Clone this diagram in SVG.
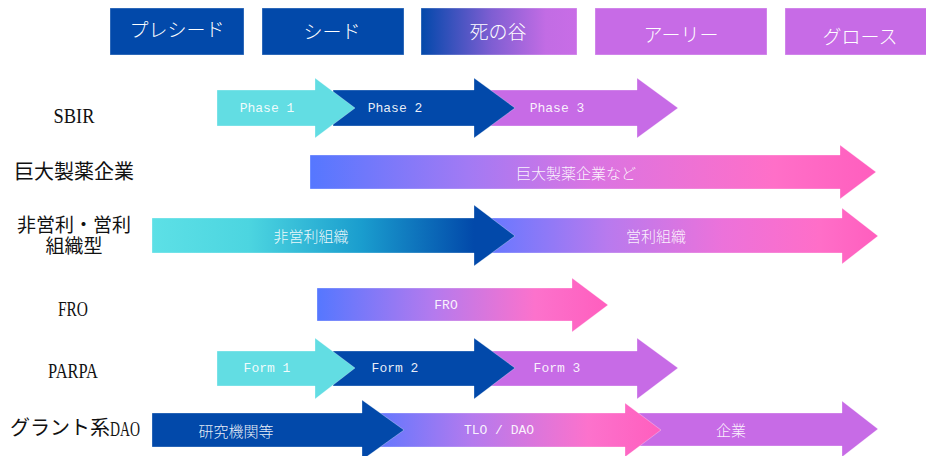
<svg xmlns="http://www.w3.org/2000/svg" width="926" height="456" viewBox="0 0 926 456">
<defs>
<style>
.hdr{font-family:"Noto Sans CJK JP",sans-serif;font-size:19px;font-weight:300;fill:#fff;text-anchor:middle;dominant-baseline:central}
.lbl{font-family:"Liberation Serif","Noto Sans CJK JP",serif;font-size:20px;fill:#111;text-anchor:middle;dominant-baseline:central}
.lat{font-size:22px}
.jp{font-family:"Noto Sans CJK JP",sans-serif;font-size:15px;font-weight:300;fill:#fff;fill-opacity:0.92;text-anchor:middle;dominant-baseline:central}
.mono{font-family:"Liberation Mono",monospace;font-size:13px;fill:#fff;fill-opacity:0.92;text-anchor:middle;dominant-baseline:central}
.blue{fill:#0249AA}
.violet{fill:#C76BE6}
.cyan{fill:#62DDE3}
.box{stroke:#ffffff;stroke-opacity:0.35;stroke-width:1}
.arr{stroke:#ffffff;stroke-opacity:0.3;stroke-width:1}
</style>
<linearGradient id="gValley" gradientUnits="userSpaceOnUse" x1="421" y1="0" x2="577" y2="0">
<stop offset="0" stop-color="#0249AA"/>
<stop offset="0.1" stop-color="#1E4DB4"/>
<stop offset="0.45" stop-color="#7E5ED2"/>
<stop offset="0.8" stop-color="#C26CE4"/>
<stop offset="1" stop-color="#C86DE6"/>
</linearGradient>
<linearGradient id="gPharma" gradientUnits="userSpaceOnUse" x1="310" y1="0" x2="876" y2="0">
<stop offset="0" stop-color="#5577FF"/>
<stop offset="0.28" stop-color="#A27AF4"/>
<stop offset="0.5" stop-color="#DA74E2"/>
<stop offset="0.82" stop-color="#FF6FC8"/>
<stop offset="1" stop-color="#FF5EBE"/>
</linearGradient>
<linearGradient id="gNonprofit" gradientUnits="userSpaceOnUse" x1="152" y1="0" x2="474" y2="0">
<stop offset="0" stop-color="#5DE0E6"/>
<stop offset="0.3" stop-color="#4CD5E0"/>
<stop offset="0.65" stop-color="#1A9DCE"/>
<stop offset="1" stop-color="#0249AA"/>
</linearGradient>
<linearGradient id="gProfit" gradientUnits="userSpaceOnUse" x1="491" y1="0" x2="878" y2="0">
<stop offset="0" stop-color="#6878FF"/>
<stop offset="0.3" stop-color="#B87AEE"/>
<stop offset="0.6" stop-color="#EC72DA"/>
<stop offset="0.85" stop-color="#FF6EC8"/>
<stop offset="1" stop-color="#FF5EBE"/>
</linearGradient>
<linearGradient id="gFRO" gradientUnits="userSpaceOnUse" x1="317" y1="0" x2="608" y2="0">
<stop offset="0" stop-color="#5577FF"/>
<stop offset="0.4" stop-color="#B47AEE"/>
<stop offset="0.75" stop-color="#FC72CC"/>
<stop offset="1" stop-color="#FF5EBE"/>
</linearGradient>
<linearGradient id="gTLO" gradientUnits="userSpaceOnUse" x1="370" y1="0" x2="661" y2="0">
<stop offset="0" stop-color="#5C77FF"/>
<stop offset="0.35" stop-color="#B47AEE"/>
<stop offset="0.75" stop-color="#FC72CC"/>
<stop offset="1" stop-color="#FF5EBE"/>
</linearGradient>
</defs>
<rect width="926" height="456" fill="#fff"/>

<g id="stages">
<g id="stage-preseed"><rect class="blue box" x="110" y="8" width="134" height="47"/><text class="hdr" x="177" y="28">プレシード</text></g>
<g id="stage-seed"><rect class="blue box" x="262" y="8" width="142" height="47"/><text class="hdr" x="332" y="30">シード</text></g>
<g id="stage-valley"><rect class="box" fill="url(#gValley)" x="421" y="8" width="156" height="47"/><text class="hdr" x="498" y="30">死の谷</text></g>
<g id="stage-early"><rect class="violet box" x="595" y="8" width="172" height="47"/><text class="hdr" x="681" y="33">アーリー</text></g>
<g id="stage-growth"><rect class="violet box" x="785" y="8" width="150" height="47"/><text class="hdr" x="860" y="35">グロース</text></g>
</g>

<g id="labels">
<g id="label-sbir"><text class="lbl lat" x="74" y="115" textLength="41" lengthAdjust="spacingAndGlyphs">SBIR</text></g>
<g id="label-pharma"><text class="lbl" x="74" y="172">巨大製薬企業</text></g>
<g id="label-org"><text class="lbl" x="74" y="225" style="font-size:19px">非営利・営利</text><text class="lbl" x="74" y="246" style="font-size:19px">組織型</text></g>
<g id="label-fro"><text class="lbl lat" x="73" y="308" textLength="30" lengthAdjust="spacingAndGlyphs">FRO</text></g>
<g id="label-parpa"><text class="lbl lat" x="73" y="370" textLength="50" lengthAdjust="spacingAndGlyphs">PARPA</text></g>
<g id="label-dao"><text class="lbl" x="10" y="428" style="text-anchor:start">グラント系<tspan class="lat" textLength="30" lengthAdjust="spacingAndGlyphs">DAO</tspan></text></g>
</g>

<g id="connectors"></g>

<g id="row-sbir">
<g id="sbir-phase3"><path class="violet arr" d="M491 90H637V78L678 108L637 138V126H491Z"/><text class="mono" x="557" y="108">Phase 3</text></g>
<g id="sbir-phase2"><path class="blue arr" d="M333 90H474V78L515 108L474 138V126H333Z"/><text class="mono" x="395" y="108">Phase 2</text></g>
<g id="sbir-phase1"><path class="cyan arr" d="M217 90H315V78L355 108L315 138V126H217Z"/><text class="mono" x="267" y="108">Phase 1</text></g>
</g>

<g id="row-pharma">
<g id="pharma-arrow"><path class="arr" fill="url(#gPharma)" d="M310 155H840V145L876 172L840 199V189H310Z"/><text class="jp" x="576" y="172">巨大製薬企業など</text></g>
</g>

<g id="row-org">
<g id="org-profit"><path class="arr" fill="url(#gProfit)" d="M491 218H842V208L878 236L842 264V253H491Z"/><text class="jp" x="656" y="235">営利組織</text></g>
<g id="org-nonprofit"><path class="arr" fill="url(#gNonprofit)" d="M152 218H474V205L515 236L474 266V253H152Z"/><text class="jp" x="311" y="235">非営利組織</text></g>
</g>

<g id="row-fro">
<g id="fro-arrow"><path class="arr" fill="url(#gFRO)" d="M317 288H572V278L608 305L572 332V321H317Z"/><text class="mono" x="446" y="305">FRO</text></g>
</g>

<g id="row-parpa">
<g id="parpa-form3"><path class="violet arr" d="M491 351H637V338L678 368L637 399V386H491Z"/><text class="mono" x="557" y="368">Form 3</text></g>
<g id="parpa-form2"><path class="blue arr" d="M333 351H474V338L515 368L474 399V386H333Z"/><text class="mono" x="395" y="368">Form 2</text></g>
<g id="parpa-form1"><path class="cyan arr" d="M217 351H315V338L355 368L315 399V386H217Z"/><text class="mono" x="267" y="368">Form 1</text></g>
</g>

<g id="row-dao">
<g id="dao-company"><path class="violet arr" d="M620 413H842V401L878 429L842 457V446H620Z"/><text class="jp" x="731" y="429">企業</text></g>
<g id="dao-tlo"><path class="arr" fill="url(#gTLO)" d="M370 413H625V403L661 430L625 457V447H370Z"/><text class="mono" x="499" y="430">TLO / DAO</text></g>
<g id="dao-research"><path class="blue arr" d="M152 413H362V400L404 430L362 460V447H152Z"/><text class="jp" x="236" y="430">研究機関等</text></g>
</g>
</svg>
